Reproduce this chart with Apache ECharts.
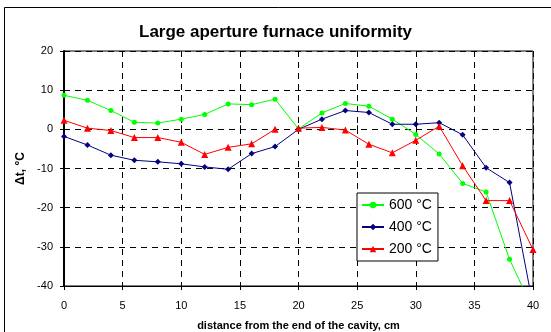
<!DOCTYPE html>
<html>
<head>
<meta charset="utf-8">
<script src="https://cdn.jsdelivr.net/npm/echarts@6/dist/echarts.min.js"></script>
<style>
html,body{margin:0;padding:0;background:#fff;}
#c{width:551px;height:332px;}
</style>
</head>
<body>
<div id="c"></div>
<script>
var title = 'Large aperture furnace uniformity';
var xName = 'distance from the end of the cavity, cm';
var yName = 'Δt, °C';
var distances = [0,2,4,6,8,10,12,14,16,18,20,22,24,26,28,30,32,34,36,38,40];
var t600 = [8.7,7.4,4.8,1.8,1.6,2.6,3.8,6.5,6.3,7.7,0.1,4.2,6.6,5.9,2.6,-1.3,-6.3,-13.8,-16,-33.2,-46];
var t400 = [-1.8,-4.0,-6.6,-7.9,-8.3,-8.8,-9.6,-10.2,-6.2,-4.4,0,2.6,4.8,4.3,1.3,1.3,1.7,-1.4,-9.8,-13.6,-45];
// 200 °C curve: the reference line is broken between 18 and 20 cm
var dist200 = [0,2,4,6,8,10,12,14,16,18,19,20,22,24,26,28,30,32,34,36,38,40];
var t200 = [2.3,0.3,-0.3,-2.1,-2.1,-3.3,-6.4,-4.6,-3.7,0,null,0.3,0.5,-0.2,-3.8,-6.0,-2.8,0.8,-9.3,-18.2,-18.2,-30.7];
var seriesNames = ['600 °C','400 °C','200 °C'];

function pairs(xs, ys){ return xs.map(function(x,i){ return [x, ys[i]]; }); }

var chart = echarts.init(document.getElementById('c'), null, {renderer:'canvas'});
var font = 'Arial, "Liberation Sans", sans-serif';
chart.setOption({
  animation:false,
  backgroundColor:'#fff',
  title:{text:title, left:'center', top:19, textStyle:{fontFamily:font, fontSize:17, fontWeight:'bold', color:'#000'}},
  graphic:[{type:'rect', shape:{x:4.5,y:7.5,width:600,height:400}, style:{fill:'none', stroke:'#000', lineWidth:1}, z:-1}],
  grid:{left:64, right:18, top:51, bottom:46, show:true, borderColor:'#000', borderWidth:1, backgroundColor:'transparent',
        containLabel:false, outerBoundsMode:'none'},
  legend:{
    data:seriesNames, orient:'vertical', left:357, top:193,
    backgroundColor:'#fff', borderColor:'#000', borderWidth:1, padding:[5,6,5,4],
    itemWidth:22, itemHeight:8, itemGap:8,
    textStyle:{fontFamily:font, fontSize:14, color:'#000'}
  },
  xAxis:[{
    type:'value', min:0, max:40, interval:5,
    name:xName, nameLocation:'middle', nameGap:34,
    nameTextStyle:{fontFamily:font, fontSize:11, fontWeight:'bold', color:'#000'},
    axisLine:{show:true, onZero:false, lineStyle:{color:'#000', width:1}},
    axisTick:{show:true, length:4, lineStyle:{color:'#000'}},
    axisLabel:{fontFamily:font, fontSize:11, color:'#000', margin:14},
    splitLine:{show:true, lineStyle:{color:'#000', type:[6,5], width:1}}
  },{
    type:'value', min:0, max:40, interval:5, position:'bottom',
    axisLine:{show:false}, axisTick:{show:true, inside:true, length:4, lineStyle:{color:'#000'}},
    axisLabel:{show:false}, splitLine:{show:false}
  }],
  yAxis:[{
    type:'value', min:-40, max:20, interval:10,
    name:yName, nameLocation:'middle', nameGap:33, nameRotate:90,
    nameTextStyle:{fontFamily:font, fontSize:12, fontWeight:'bold', color:'#000'},
    axisLine:{show:true, onZero:false, lineStyle:{color:'#000', width:2}},
    axisTick:{show:true, length:4, lineStyle:{color:'#000'}},
    axisLabel:{fontFamily:font, fontSize:11, color:'#000', margin:11},
    splitLine:{show:true, lineStyle:{color:'#000', type:[6,5], width:1}}
  },{
    type:'value', min:-40, max:20, interval:10, position:'left',
    axisLine:{show:false}, axisTick:{show:true, inside:true, length:4, lineStyle:{color:'#000'}},
    axisLabel:{show:false}, splitLine:{show:false}
  }],
  series:[
    {name:seriesNames[0], type:'line', data:pairs(distances,t600), symbol:'circle', symbolSize:5,
     itemStyle:{color:'#00ff00'}, lineStyle:{color:'#00ff00', width:1}, clip:true},
    {name:seriesNames[1], type:'line', data:pairs(distances,t400), symbol:'diamond', symbolSize:6,
     itemStyle:{color:'#000080'}, lineStyle:{color:'#000080', width:1}, clip:true},
    {name:seriesNames[2], type:'line', data:pairs(dist200,t200), symbol:'triangle', symbolSize:7,
     connectNulls:false, itemStyle:{color:'#ff0000'}, lineStyle:{color:'#ff0000', width:1}, clip:true}
  ]
});
</script>
</body>
</html>
